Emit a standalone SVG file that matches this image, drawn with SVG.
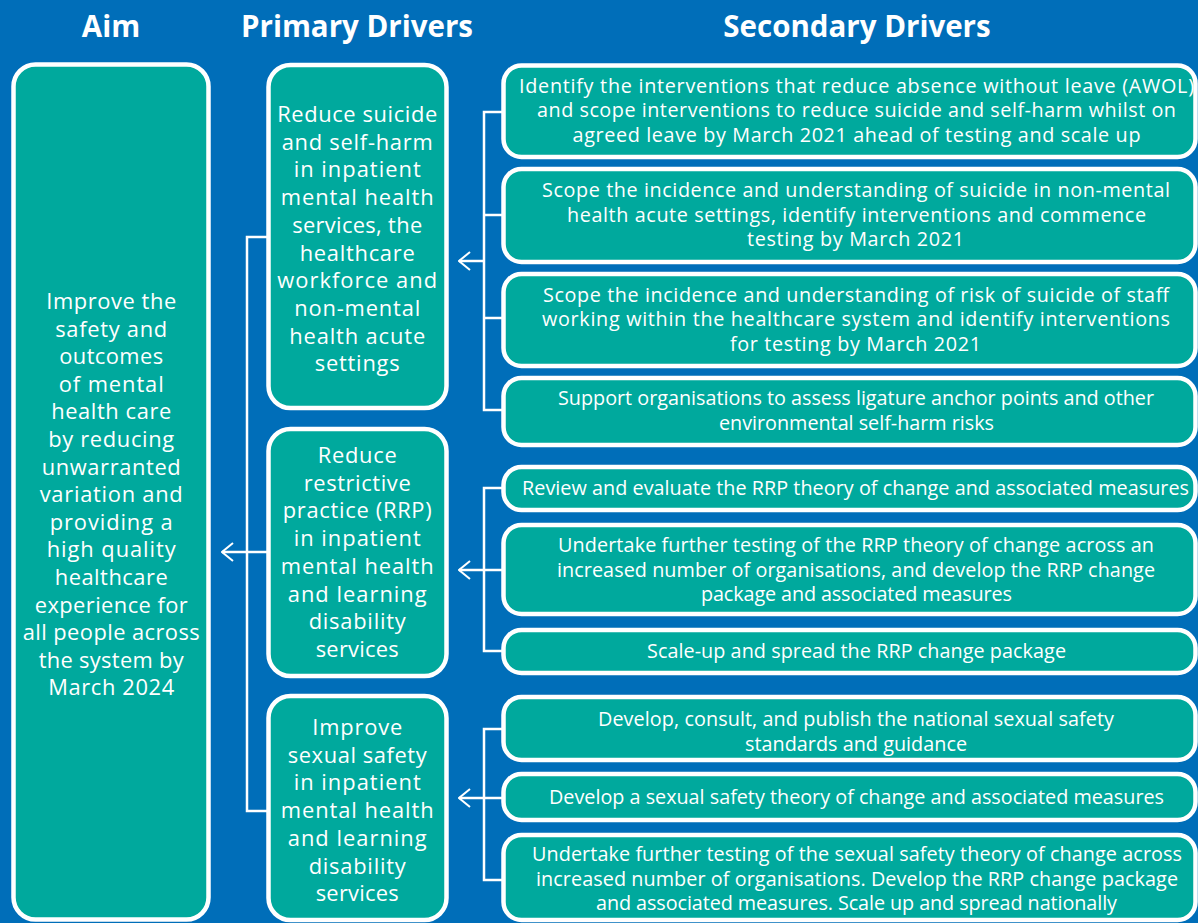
<svg xmlns="http://www.w3.org/2000/svg" width="1198" height="923" viewBox="0 0 1198 923">
<defs>
<style>
.box{fill:#00a99d;stroke:#ffffff;stroke-width:4.5}
.t{font-family:"Open Sans","Noto Sans","Liberation Sans",sans-serif;fill:#ffffff;text-anchor:middle}
.h{font-size:29.5px;font-weight:bold}
.p{font-size:21.9px}
.s{font-size:19.8px}
.c{fill:none;stroke:#ffffff;stroke-width:2.5}
</style>
<marker id="arr" markerUnits="userSpaceOnUse" viewBox="0 0 13 20" refX="12" refY="10" markerWidth="13" markerHeight="20" orient="auto">
<path d="M1,1 L12,10 L1,19" fill="none" stroke="#ffffff" stroke-width="2"/>
</marker>
</defs>
<rect width="1198" height="923" fill="#006eb9"/>
<g id="headers">
<text class="t h" x="111" y="37">Aim</text>
<text class="t h" x="357" y="37">Primary Drivers</text>
<text class="t h" x="857" y="37">Secondary Drivers</text>
</g>
<g id="connectors">
<path class="c" d="M267,237 H247 V811 H267"/>
<line class="c" x1="267" y1="552" x2="222" y2="552" marker-end="url(#arr)"/>
<path class="c" d="M503,112 H484 V410 H503 M484,215 H503 M484,318 H503"/>
<line class="c" x1="484" y1="261" x2="459" y2="261" marker-end="url(#arr)"/>
<path class="c" d="M503,488 H484 V651 H503"/>
<line class="c" x1="503" y1="570" x2="459" y2="570" marker-end="url(#arr)"/>
<path class="c" d="M503,729 H484 V880 H503"/>
<line class="c" x1="503" y1="798" x2="459" y2="798" marker-end="url(#arr)"/>
</g>
<g id="aim">
<rect class="box" x="13.5" y="64.5" width="195" height="855" rx="22"/>
<text class="t p"><tspan x="111.2" y="309" textLength="130" lengthAdjust="spacing">Improve the</tspan><tspan x="111.2" y="336.6" textLength="112" lengthAdjust="spacing">safety and</tspan><tspan x="111.2" y="364.2" textLength="104" lengthAdjust="spacing">outcomes</tspan><tspan x="111.2" y="391.8" textLength="105" lengthAdjust="spacing">of mental</tspan><tspan x="111.2" y="419.4" textLength="120" lengthAdjust="spacing">health care</tspan><tspan x="111.2" y="447" textLength="126" lengthAdjust="spacing">by reducing</tspan><tspan x="111.2" y="474.6" textLength="139" lengthAdjust="spacing">unwarranted</tspan><tspan x="111.2" y="502.2" textLength="143" lengthAdjust="spacing">variation and</tspan><tspan x="111.2" y="529.8" textLength="123" lengthAdjust="spacing">providing a</tspan><tspan x="111.2" y="557.4" textLength="129" lengthAdjust="spacing">high quality</tspan><tspan x="111.2" y="585" textLength="113" lengthAdjust="spacing">healthcare</tspan><tspan x="111.2" y="612.6" textLength="153" lengthAdjust="spacing">experience for</tspan><tspan x="111.2" y="640.2" textLength="177" lengthAdjust="spacing">all people across</tspan><tspan x="111.2" y="667.8" textLength="145" lengthAdjust="spacing">the system by</tspan><tspan x="111.2" y="695.4" textLength="126" lengthAdjust="spacing">March 2024</tspan></text>
</g>
<g id="primary1">
<rect class="box" x="268.5" y="65" width="178" height="343" rx="22"/>
<text class="t p"><tspan x="357.2" y="122" textLength="160" lengthAdjust="spacing">Reduce suicide</tspan><tspan x="357.2" y="149.7" textLength="151" lengthAdjust="spacing">and self-harm</tspan><tspan x="357.2" y="177.4" textLength="127" lengthAdjust="spacing">in inpatient</tspan><tspan x="357.2" y="205.1" textLength="153" lengthAdjust="spacing">mental health</tspan><tspan x="357.2" y="232.8" textLength="130" lengthAdjust="spacing">services, the</tspan><tspan x="357.2" y="260.5" textLength="115" lengthAdjust="spacing">healthcare</tspan><tspan x="357.2" y="288.2" textLength="160" lengthAdjust="spacing">workforce and</tspan><tspan x="357.2" y="315.9" textLength="126" lengthAdjust="spacing">non-mental</tspan><tspan x="357.2" y="343.6" textLength="136" lengthAdjust="spacing">health acute</tspan><tspan x="357.2" y="371.3" textLength="85" lengthAdjust="spacing">settings</tspan></text>
</g>
<g id="primary2">
<rect class="box" x="268.5" y="429" width="178" height="247" rx="22"/>
<text class="t p"><tspan x="357.2" y="463" textLength="79" lengthAdjust="spacing">Reduce</tspan><tspan x="357.2" y="490.7" textLength="107" lengthAdjust="spacing">restrictive</tspan><tspan x="357.2" y="518.4" textLength="149" lengthAdjust="spacing">practice (RRP)</tspan><tspan x="357.2" y="546.1" textLength="127" lengthAdjust="spacing">in inpatient</tspan><tspan x="357.2" y="573.8" textLength="153" lengthAdjust="spacing">mental health</tspan><tspan x="357.2" y="601.5" textLength="139" lengthAdjust="spacing">and learning</tspan><tspan x="357.2" y="629.2" textLength="97" lengthAdjust="spacing">disability</tspan><tspan x="357.2" y="656.9" textLength="83" lengthAdjust="spacing">services</tspan></text>
</g>
<g id="primary3">
<rect class="box" x="268.5" y="696" width="178" height="224" rx="22"/>
<text class="t p"><tspan x="357.2" y="735" textLength="90" lengthAdjust="spacing">Improve</tspan><tspan x="357.2" y="762.7" textLength="139" lengthAdjust="spacing">sexual safety</tspan><tspan x="357.2" y="790.4" textLength="127" lengthAdjust="spacing">in inpatient</tspan><tspan x="357.2" y="818.1" textLength="153" lengthAdjust="spacing">mental health</tspan><tspan x="357.2" y="845.8" textLength="139" lengthAdjust="spacing">and learning</tspan><tspan x="357.2" y="873.5" textLength="97" lengthAdjust="spacing">disability</tspan><tspan x="357.2" y="901.2" textLength="83" lengthAdjust="spacing">services</tspan></text>
</g>
<g id="secondary1">
<rect class="box" x="503.5" y="65.5" width="692" height="91.5" rx="18"/>
<text class="t s"><tspan x="856.5" y="92.5" textLength="675" lengthAdjust="spacing">Identify the interventions that reduce absence without leave (AWOL)</tspan><tspan x="856.5" y="117" textLength="639" lengthAdjust="spacing">and scope interventions to reduce suicide and self-harm whilst on</tspan><tspan x="856.5" y="141.5" textLength="568" lengthAdjust="spacing">agreed leave by March 2021 ahead of testing and scale up</tspan></text>
</g>
<g id="secondary2">
<rect class="box" x="503.5" y="169" width="692" height="93" rx="18"/>
<text class="t s"><tspan x="856" y="197" textLength="628" lengthAdjust="spacing">Scope the incidence and understanding of suicide in non-mental</tspan><tspan x="856.5" y="221.5" textLength="579" lengthAdjust="spacing">health acute settings, identify interventions and commence</tspan><tspan x="855.5" y="246" textLength="217" lengthAdjust="spacing">testing by March 2021</tspan></text>
</g>
<g id="secondary3">
<rect class="box" x="503.5" y="274" width="692" height="92" rx="18"/>
<text class="t s"><tspan x="856" y="301.5" textLength="626" lengthAdjust="spacing">Scope the incidence and understanding of risk of suicide of staff</tspan><tspan x="856" y="326" textLength="628" lengthAdjust="spacing">working within the healthcare system and identify interventions</tspan><tspan x="855.5" y="350.5" textLength="251" lengthAdjust="spacing">for testing by March 2021</tspan></text>
</g>
<g id="secondary4">
<rect class="box" x="503.5" y="378" width="692" height="67" rx="18"/>
<text class="t s"><tspan x="856" y="405" textLength="596" lengthAdjust="spacing">Support organisations to assess ligature anchor points and other</tspan><tspan x="856.5" y="429.5" textLength="275" lengthAdjust="spacing">environmental self-harm risks</tspan></text>
</g>
<g id="secondary5">
<rect class="box" x="503.5" y="467" width="692" height="43" rx="18"/>
<text class="t s" x="855.5" y="495" textLength="667" lengthAdjust="spacing">Review and evaluate the RRP theory of change and associated measures</text>
</g>
<g id="secondary6">
<rect class="box" x="503.5" y="525" width="692" height="89" rx="18"/>
<text class="t s"><tspan x="856" y="552" textLength="596" lengthAdjust="spacing">Undertake further testing of the RRP theory of change across an</tspan><tspan x="856" y="576.5" textLength="598" lengthAdjust="spacing">increased number of organisations, and develop the RRP change</tspan><tspan x="856.5" y="601" textLength="311" lengthAdjust="spacing">package and associated measures</tspan></text>
</g>
<g id="secondary7">
<rect class="box" x="503.5" y="630" width="692" height="43" rx="18"/>
<text class="t s" x="856.5" y="658" textLength="419" lengthAdjust="spacing">Scale-up and spread the RRP change package</text>
</g>
<g id="secondary8">
<rect class="box" x="503.5" y="697" width="692" height="63" rx="18"/>
<text class="t s"><tspan x="856" y="726" textLength="516" lengthAdjust="spacing">Develop, consult, and publish the national sexual safety</tspan><tspan x="856" y="750.5" textLength="222" lengthAdjust="spacing">standards and guidance</tspan></text>
</g>
<g id="secondary9">
<rect class="box" x="503.5" y="774" width="692" height="46" rx="18"/>
<text class="t s" x="856.5" y="803.5" textLength="615" lengthAdjust="spacing">Develop a sexual safety theory of change and associated measures</text>
</g>
<g id="secondary10">
<rect class="box" x="503.5" y="835" width="692" height="85" rx="18"/>
<text class="t s"><tspan x="857" y="861" textLength="650" lengthAdjust="spacing">Undertake further testing of the sexual safety theory of change across</tspan><tspan x="857" y="885.5" textLength="642" lengthAdjust="spacing">increased number of organisations. Develop the RRP change package</tspan><tspan x="856.5" y="910" textLength="521" lengthAdjust="spacing">and associated measures. Scale up and spread nationally</tspan></text>
</g>
</svg>
